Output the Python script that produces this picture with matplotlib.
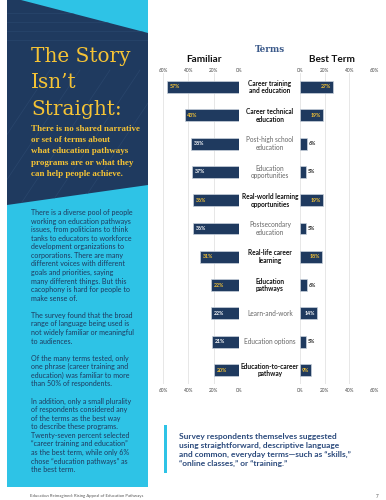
"""
Terms chart: familiar vs best term
"""
import matplotlib
matplotlib.use("Agg")
import matplotlib.pyplot as plt
import matplotlib.transforms as mtransforms
from matplotlib.patches import Rectangle, Polygon

terms = ["Career training\nand education", "Career technical\neducation",
         "Post-high school\neducation", "Education\nopportunities",
         "Real-world learning\nopportunities", "Postsecondary\neducation",
         "Real-life career\nlearning", "Education\npathways",
         "Learn-and-work", "Education options",
         "Education-to-career\npathway"]
familiar = [57, 43, 38, 37, 36, 36, 31, 22, 22, 21, 20]
best = [27, 19, 6, 5, 19, 5, 18, 6, 14, 5, 9]
bold_terms = [True, True, False, False, True, False, True, True, False, False, True]
ticks = [0, 20, 40, 60]

title_lines = ["The Story", "Isn\u2019t", "Straight:"]
subtitle_lines = ["There is no shared narrative", "or set of terms about",
                  "what education pathways", "programs are or what they",
                  "can help people achieve."]
body_lines = ["There is a diverse pool of people", "working on education pathways",
              "issues, from politicians to think", "tanks to educators to workforce",
              "development organizations to", "corporations. There are many",
              "different voices with different", "goals and priorities, saying",
              "many different things. But this", "cacophony is hard for people to",
              "make sense of.", "",
              "The survey found that the broad", "range of language being used is",
              "not widely familiar or meaningful", "to audiences.", "",
              "Of the many terms tested, only", "one phrase (career training and",
              "education) was familiar to more", "than 50% of respondents.", "",
              "In addition, only a small plurality", "of respondents considered any",
              "of the terms as the best way", "to describe these programs.",
              "Twenty-seven percent selected", "\u201ccareer training and education\u201d",
              "as the best term, while only 6%", "chose \u201ceducation pathways\u201d as",
              "the best term."]
quote_lines = ["Survey respondents themselves suggested",
               "using straightforward, descriptive language",
               "and common, everyday terms\u2014such as \u201cskills,\u201d",
               "\u201conline classes,\u201d or \u201ctraining.\u201d"]
footer = "Education Reimagined: Rising Appeal of Education Pathways"

NAVY = "#1f3a5f"
BLUE = "#2ec3e6"
YELLOW = "#f5c335"
SANS = ["Lato", "DejaVu Sans"]

fig = plt.figure(figsize=(3.86, 5.0), dpi=100)
bg = fig.add_axes([0, 0, 1, 1])
bg.set_xlim(0, 386)
bg.set_ylim(500, 0)
bg.axis("off")

# left panel
bg.add_patch(Rectangle((7, 0), 141, 487, color=BLUE, lw=0))
navy = Polygon([(7, 0), (21, 0), (148, 33), (148, 185), (7, 205)], closed=True, color=NAVY, lw=0)
bg.add_patch(navy)
for yy in [13, 22, 31, 40]:
    ln, = bg.plot([7, 148], [yy, yy], color="#29466d", lw=0.5)
    ln.set_clip_path(navy)
for x0 in [-40, -10, 20, 50, 80]:
    ln, = bg.plot([x0, x0 + 90], [205, 70], color="#29466d", lw=0.5)
    ln.set_clip_path(navy)

for i, t in enumerate(title_lines):
    bg.text(31, 62 + i * 26.5, t, family="DejaVu Serif", fontsize=14.4, color=YELLOW, va="baseline")
for i, t in enumerate(subtitle_lines):
    bg.text(31, 131 + i * 11.2, t, family="Liberation Serif", fontweight="bold",
            fontsize=6.5, color=YELLOW, va="baseline")
for i, t in enumerate(body_lines):
    bg.text(31, 215 + i * 8.57, t, family=SANS, fontsize=5.1, color=NAVY, va="baseline")

bg.text(30, 496, footer, family=SANS, fontsize=3.1, color="#555555", va="center")
bg.text(376, 496, "7", family=SANS, fontsize=3.3, color="#555555", va="center")

# quote
bg.add_patch(Rectangle((164, 425), 3, 48, color=BLUE, lw=0))
for i, t in enumerate(quote_lines):
    bg.text(179, 439 + i * 9, t, family=SANS, fontweight="bold", fontsize=6.0,
            color="#2b4a7c", va="baseline")

# headings
bg.text(270, 49, "Terms", family="DejaVu Serif", fontweight="bold", fontsize=6.3,
        color="#3c5a8a", ha="center", va="center")
bg.text(204, 59, "Familiar", family=SANS, fontweight="bold", fontsize=7.2, color="#111111",
        ha="center", va="center")
bg.text(332, 59, "Best Term", family=SANS, fontweight="bold", fontsize=7.2, color="#111111",
        ha="center", va="center")

# bar axes
top_px, bot_px = 72.85, 384.15
ax_h = (bot_px - top_px) / 500
ax_b = (500 - bot_px) / 500
axL = fig.add_axes([163 / 386, ax_b, 76 / 386, ax_h])
axR = fig.add_axes([300 / 386, ax_b, 74 / 386, ax_h])
rows = list(range(len(terms)))

for ax, vals, side in [(axL, familiar, "L"), (axR, best, "R")]:
    ax.barh(rows, vals, height=0.42, color=NAVY, edgecolor="#c9d2dc", linewidth=0.5, zorder=3)
    ax.set_ylim(len(terms) - 0.5, -0.5)
    ax.set_xlim((60, 0) if side == "L" else (0, 60))
    ax.set_xticks(ticks)
    ax.set_yticks([])
    ax.tick_params(axis="x", length=0, labelbottom=False)
    ax.grid(axis="x", color="#e3e3e3", lw=0.6, zorder=0)
    for s in ax.spines.values():
        s.set_visible(False)
    ax.patch.set_alpha(0)
    tr = mtransforms.blended_transform_factory(ax.transData, bg.transData)
    for t in ticks:
        for yy in (71, 391):
            ax.text(t, yy, f"{t}%", transform=tr, family=SANS, fontsize=3.4,
                    color="#444444", ha="center", va="center")
    for i, v in enumerate(vals):
        col = YELLOW if bold_terms[i] else "white"
        if side == "L":
            ax.annotate(f"{v}%", (v, i), xytext=(2, 0), textcoords="offset points",
                        family=SANS, fontweight="bold", fontsize=3.8, color=col,
                        ha="left", va="center", zorder=4)
        elif v >= 9:
            ax.annotate(f"{v}%", (v, i), xytext=(-1.5, 0), textcoords="offset points",
                        family=SANS, fontweight="bold", fontsize=3.8, color=col,
                        ha="right", va="center", zorder=4)
        else:
            ax.annotate(f"{v}%", (v, i), xytext=(1.2, 0), textcoords="offset points",
                        family=SANS, fontweight="bold", fontsize=3.8, color="#222222",
                        ha="left", va="center", zorder=4)

trC = mtransforms.blended_transform_factory(bg.transData, axL.transData)
for i, t in enumerate(terms):
    bg.text(270, i, t, transform=trC, family=SANS, fontsize=4.7, linespacing=1.1,
            fontweight="bold" if bold_terms[i] else "normal",
            color="#111111" if bold_terms[i] else "#666666", ha="center", va="center")

fig.savefig("out.png", dpi=100)
